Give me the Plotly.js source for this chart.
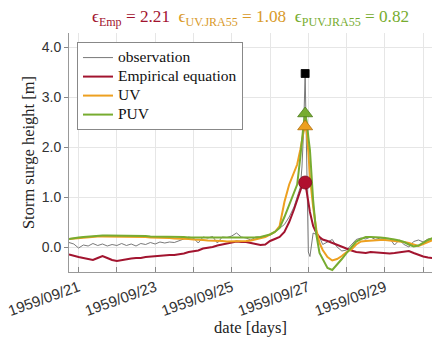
<!DOCTYPE html>
<html>
<head>
<meta charset="utf-8">
<script src="https://cdn.plot.ly/plotly-3.0.1.min.js"></script>
<style>html,body{margin:0;padding:0;background:#fff;}#chart{width:432px;height:337px;}</style>
</head>
<body>
<div id="chart"></div>
<script>
// hours since 1959-09-20 18:00 (local time axis)
const hours = [0,3,6,9,12,15,18,21,24,27,30,33,36,39,42,45,48,51,54,57,60,63,66,69,72,75,78,81,84,87,90,93,96,99,102,105,108,111,114,117,120,123,126,129,132,135,138,141,143,145,146,147,148,149,150,151,153,155,157,159,162,165,168,171,174,177,180,183,186,189,192,195,198,201,204,207,210,213,216,219,222,225,228];

const observation = [0.09,0.06,-0.02,0.04,0.02,0.07,0.03,0.06,0.02,0.05,0.03,0.07,0.03,0.06,0.02,0.07,0.05,0.09,0.06,0.10,0.08,0.10,0.09,0.12,0.16,0.20,0.18,0.08,0.20,0.18,0.21,0.08,0.20,0.19,0.22,0.28,0.20,0.18,0.14,0.20,0.20,0.22,0.24,0.30,0.38,0.45,0.60,0.80,1.00,1.20,1.60,2.30,3.47,1.40,-0.10,-0.19,0.28,0.25,0.20,0.05,0.10,0.15,0.00,-0.08,-0.06,0.05,0.15,0.18,0.16,0.20,0.15,0.18,0.17,0.17,0.04,0.14,0.05,0.00,0.11,0.14,0.10,0.16,0.17];

const empirical = [-0.15,-0.18,-0.20,-0.22,-0.24,-0.26,-0.22,-0.18,-0.22,-0.26,-0.28,-0.26,-0.24,-0.23,-0.22,-0.22,-0.20,-0.19,-0.18,-0.17,-0.17,-0.16,-0.16,-0.15,-0.13,-0.10,-0.09,-0.07,-0.03,-0.02,0.00,0.03,0.05,0.07,0.09,0.11,0.10,0.10,0.08,0.06,0.04,0.05,0.12,0.16,0.20,0.30,0.50,0.75,0.95,1.15,1.22,1.27,1.29,1.10,0.90,0.70,0.42,0.28,0.20,0.15,0.12,0.08,0.05,0.00,-0.04,-0.07,-0.10,-0.11,-0.12,-0.10,-0.11,-0.12,-0.12,-0.13,-0.12,-0.11,-0.10,-0.08,-0.12,-0.16,-0.19,-0.21,-0.22];

const uv = [0.16,0.17,0.18,0.19,0.20,0.20,0.21,0.21,0.21,0.21,0.20,0.20,0.20,0.20,0.20,0.20,0.20,0.19,0.19,0.18,0.18,0.18,0.17,0.17,0.16,0.16,0.15,0.15,0.14,0.13,0.13,0.12,0.12,0.11,0.11,0.11,0.11,0.12,0.13,0.15,0.17,0.20,0.25,0.30,0.42,0.90,1.25,1.50,1.65,1.95,2.15,2.30,2.41,2.30,1.90,1.40,0.80,0.35,0.08,-0.06,-0.20,-0.27,-0.24,-0.18,-0.10,-0.05,0.05,0.11,0.12,0.13,0.13,0.14,0.14,0.13,0.13,0.12,0.10,0.08,0.05,0.02,0.06,0.10,0.14];

const puv = [0.16,0.18,0.19,0.20,0.21,0.22,0.23,0.23,0.23,0.23,0.23,0.22,0.22,0.22,0.22,0.22,0.22,0.21,0.21,0.21,0.21,0.20,0.20,0.20,0.20,0.19,0.19,0.19,0.19,0.19,0.19,0.18,0.18,0.18,0.18,0.18,0.18,0.18,0.18,0.19,0.20,0.22,0.25,0.30,0.38,0.60,0.85,1.10,1.25,1.80,2.15,2.45,2.67,2.50,2.20,1.94,0.94,0.25,-0.12,-0.25,-0.42,-0.46,-0.36,-0.24,-0.12,0.00,0.11,0.16,0.20,0.20,0.20,0.19,0.18,0.17,0.15,0.13,0.10,0.05,0.01,0.03,0.09,0.14,0.18];

const errEmp = 2.21, errUV = 1.08, errPUV = 0.82;
const dayTicks = ['1959-09-21','1959-09-22','1959-09-23','1959-09-24','1959-09-25','1959-09-26','1959-09-27','1959-09-28','1959-09-29','1959-09-30'];
const dayLabels = ['1959/09/21','','1959/09/23','','1959/09/25','','1959/09/27','','1959/09/29',''];
const seriesNames = ['observation','Empirical equation','UV','PUV'];

const cObs = '#6a6a6a', cEmp = '#a2142f', cUV = '#eda020', cPUV = '#77ac30';
const t0 = Date.UTC(1959, 8, 20, 18);
function toDate(h){ return new Date(t0 + h*3600e3).toISOString().slice(0,19).replace('T',' '); }
const x = hours.map(toDate);
function peak(arr){ let k=0; arr.forEach((v,i)=>{ if(v>arr[k]) k=i; }); return k; }

const serif = 'Liberation Serif, Times New Roman, serif';
const sans = 'Liberation Sans, Arial, sans-serif';
const lg = s => `<span style="font-size:15.5px">${s}</span>`;

const traces = [
  {x, y: observation, name:lg(seriesNames[0]), mode:'lines', line:{color:cObs, width:0.9}},
  {x, y: empirical, name:lg(seriesNames[1]), mode:'lines', line:{color:cEmp, width:2}},
  {x, y: uv, name:lg(seriesNames[2]), mode:'lines', line:{color:cUV, width:2}},
  {x, y: puv, name:lg(seriesNames[3]), mode:'lines', line:{color:cPUV, width:2}},
];
const pk = [
  [observation, 'square', '#000', '#000', 8],
  [puv, 'triangle-up', cPUV, '#4a7a1a', 13],
  [uv, 'triangle-up', cUV, '#b07010', 13],
  [empirical, 'circle', '#b0102f', '#7a0a20', 13],
];
pk.forEach(([arr, sym, col, lc, sz]) => {
  const k = peak(arr);
  traces.push({x:[x[k]], y:[arr[k]], mode:'markers', showlegend:false, hoverinfo:'skip',
    marker:{symbol:sym, color:col, size:sz, line:{color:lc, width:0.8}}});
});

const title = `<span style="color:${cEmp}">ϵ<sub>Emp</sub> = ${errEmp.toFixed(2)}</span>  ` +
  `<span style="color:#d99a2a">ϵ<sub>UV.JRA55</sub> = ${errUV.toFixed(2)}</span>  ` +
  `<span style="color:${cPUV}">ϵ<sub>PUV.JRA55</sub> = ${errPUV.toFixed(2)}</span>`;

const layout = {
  width:432, height:337,
  margin:{l:69, r:0, t:33, b:65},
  paper_bgcolor:'#fff', plot_bgcolor:'#fff',
  title:{text:title, font:{family:serif, size:17.2}, x:0.5, xref:'paper', xanchor:'center', y:0.952, yanchor:'middle'},
  xaxis:{type:'date', range:['1959-09-20 18:00','1959-09-30 05:30'],
    tickmode:'array', tickvals:dayTicks, ticktext:dayLabels, tickangle:-20,
    ticks:'inside', ticklen:5, tickcolor:'#888',
    showgrid:true, gridcolor:'#e6e6e6', zeroline:false,
    showline:true, linecolor:'#999', linewidth:1,
    tickfont:{family:sans, size:15, color:'#333'},
    title:{text:'date [days]', font:{family:serif, size:16.5, color:'#222'}, standoff:2}},
  yaxis:{range:[-0.5, 4.28], tickvals:[0,1,2,3,4], ticktext:['0.0','1.0','2.0','3.0','4.0'],
    ticks:'outside', ticklen:4, tickcolor:'#888',
    showgrid:true, gridcolor:'#e6e6e6', zeroline:false,
    showline:true, linecolor:'#999', linewidth:1,
    tickfont:{family:sans, size:14, color:'#333'},
    title:{text:'Storm surge height [m]', font:{family:serif, size:16.5, color:'#222'}, standoff:2}},
  legend:{x:0.022, y:0.962, xanchor:'left', yanchor:'top', bgcolor:'#fff', bordercolor:'#888', borderwidth:1,
    font:{family:serif, size:11, color:'#111'}, itemwidth:30, tracegroupgap:0},
  showlegend:true
};
Plotly.newPlot('chart', traces, layout, {displayModeBar:false, staticPlot:true});
</script>
</body>
</html>
